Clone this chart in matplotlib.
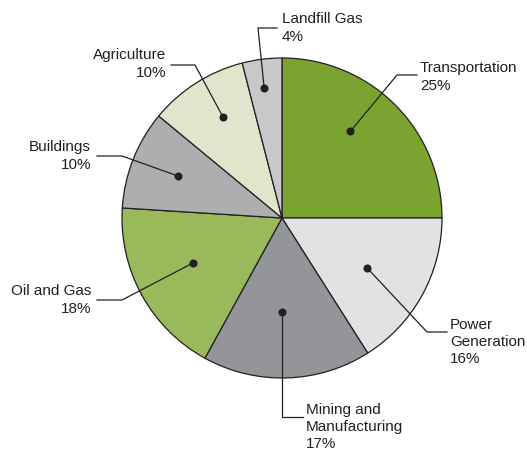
import numpy as np
import matplotlib
matplotlib.use("Agg")
import matplotlib.pyplot as plt

labels = ["Transportation", "Power\nGeneration", "Mining and\nManufacturing",
          "Oil and Gas", "Buildings", "Agriculture", "Landfill Gas"]
shares = [25, 16, 17, 18, 10, 10, 4]
colors = ["#7ba32f", "#e1e2e3", "#939598", "#9ab95a", "#adaeb0", "#dfe6cc", "#c7c8ca"]

W, H = 527, 451
CX, CY, R = 282, 218, 160

# dot radius, dot angle offset, elbow point, end of leader, text anchor (pixels from top-left)
callouts = [
    (0.69, 6.7, (397, 75), (417, 75), (420, 77), "left"),
    (0.62, -1.7, (427, 332), (447, 332), (450, 342), "left"),
    (0.59, -1.8, None, (303, 417), (306, 427), "left"),
    (0.62, -2.0, (122, 300), (97, 300), (91, 300), "right"),
    (0.70, -0.4, (122, 156), (97, 156), (91, 156), "right"),
    (0.73, -2.1, (195, 65), (171, 65), (166, 64), "right"),
    (0.82, 0.6, (258, 28), (277, 28), (282, 28), "left"),
]

plt.rcParams["font.family"] = ["Liberation Sans", "DejaVu Sans"]

fig = plt.figure(figsize=(W / 100, H / 100), dpi=100)
ax = fig.add_axes([0, 0, 1, 1])

def fy(y):
    return H - y

wedges, _ = ax.pie(shares, colors=colors, startangle=90, counterclock=False,
                   center=(CX, fy(CY)), radius=R, frame=True,
                   wedgeprops=dict(edgecolor="#231f20", linewidth=0.9))
ax.set_xlim(0, W)
ax.set_ylim(0, H)
ax.set_aspect("equal")
ax.axis("off")

txt = "#231f20"
for w, share, lab, (rf, off, elbow, end, tpos, ha) in zip(wedges, shares, labels, callouts):
    mid = np.deg2rad((w.theta1 + w.theta2) / 2 + off)
    dx = CX + rf * R * np.cos(mid)
    dy = fy(CY) + rf * R * np.sin(mid)
    if elbow is None:
        pts = [(dx, dy), (dx, fy(end[1])), (end[0], fy(end[1]))]
    else:
        pts = [(dx, dy), (elbow[0], fy(elbow[1])), (end[0], fy(end[1]))]
    xs, ys = zip(*pts)
    ax.plot(xs, ys, color=txt, linewidth=0.9, zorder=5)
    ax.plot([dx], [dy], "o", color=txt, markersize=4.8, zorder=6)
    ax.text(tpos[0], fy(tpos[1]), f"{lab}\n{share}%", ha=ha, va="center",
            fontsize=11, color=txt, linespacing=1.3, zorder=7)

fig.savefig("out.png", dpi=100)
